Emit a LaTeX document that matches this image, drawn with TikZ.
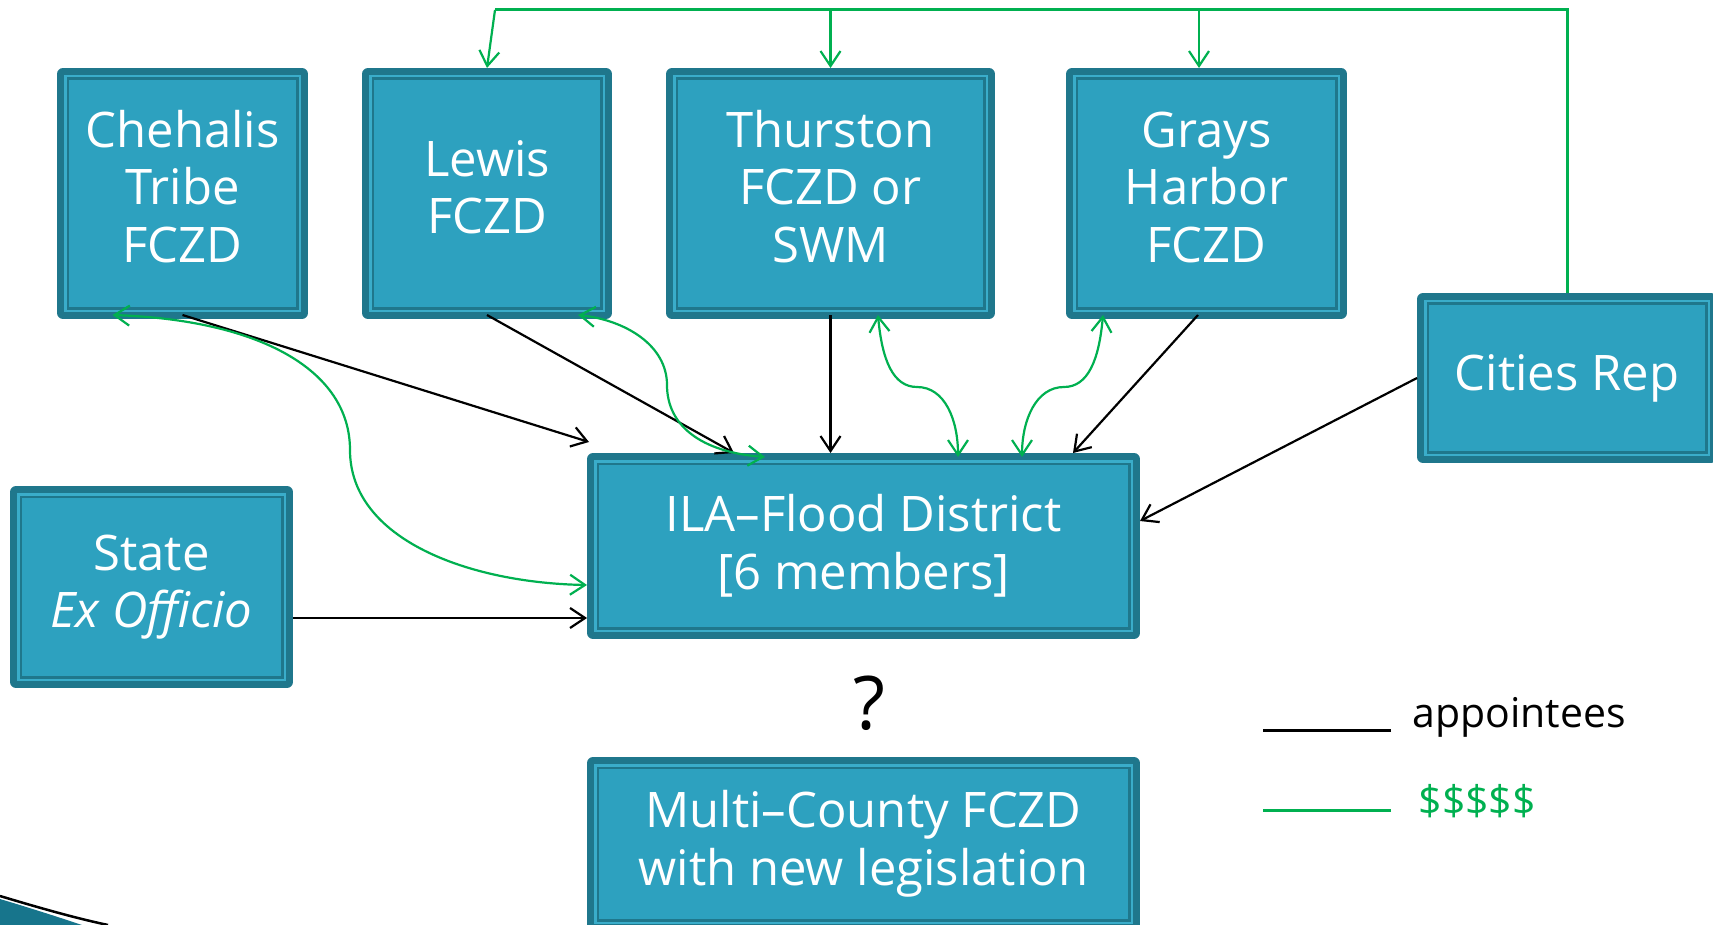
\documentclass[tikz,border=0pt]{standalone}
\usepackage{fontspec}
\setmainfont{Open Sans}
\usetikzlibrary{arrows.meta}
\definecolor{boxfill}{HTML}{2DA1BF}
\definecolor{boxdark}{HTML}{1F778C}
\definecolor{boxlight}{HTML}{3AADCA}
\definecolor{money}{HTML}{00B050}
\definecolor{swoosh}{HTML}{17758C}
% stacked lines, centred on their strut block
\newcommand{\boxrows}[1]{\raisebox{-2.5pt}{\begin{tabular}{@{}c@{}}#1\end{tabular}}}
\tikzset{
  vtip/.tip={Straight Barb[length=15pt,width=20pt]},
  box/.style={draw=boxdark, fill=boxfill, line width=12pt, line join=round,
    inner sep=0pt, outer sep=6pt, text=white, align=center,
    font=\fontsize{49pt}{57.5pt}\selectfont},
  innerline/.style={draw=boxlight, line width=2.5pt},
  appt/.style={draw=black, line width=2.2pt, -vtip},
  pay/.style={draw=money, line width=2.2pt},
  legendtext/.style={anchor=base west, font=\fontsize{41pt}{49pt}\selectfont},
}
\begin{document}
\begin{tikzpicture}[x=1pt,y=-1pt]
\fill[white] (0,0) rectangle (1713,925);
\useasboundingbox (0,0) rectangle (1713,925);

% corner swoosh
\fill[swoosh] (0,899) .. controls (30,908) and (55,916) .. (82,925) -- (0,925) -- cycle;
\draw[black, line width=2.5pt] (0,896) .. controls (40,908) and (75,918) .. (108,925);

% boxes
\node[box, minimum width=239pt, minimum height=239pt] (chehalis) at (182.5,193.5) {\boxrows{Chehalis\\Tribe\\FCZD}};
\node[box, minimum width=238pt, minimum height=239pt] (lewis) at (487,193.5) {\boxrows{Lewis\\FCZD}};
\node[box, minimum width=317pt, minimum height=239pt] (thurston) at (830.5,193.5) {\boxrows{Thurston\\FCZD or\\SWM}};
\node[box, minimum width=269pt, minimum height=239pt] (grays) at (1206.5,193.5) {\boxrows{Grays\\Harbor\\FCZD}};
\node[box, minimum width=288pt, minimum height=158pt] (cities) at (1567,378) {Cities Rep};
\node[box, minimum width=541pt, minimum height=174pt] (ila) at (863.5,546) {ILA--Flood District\\{[}6 members{]}};
\node[box, minimum width=271pt, minimum height=190pt] (state) at (151.5,587) {State\\\textit{Ex Officio}};
\node[box, minimum width=541pt, minimum height=162pt] (multi) at (863.5,844) {Multi--County FCZD\\with new legislation};

\foreach \n in {chehalis,lewis,thurston,grays,cities,ila,state,multi}
  \draw[innerline] ([xshift=8.25pt,yshift=-8.25pt]\n.north west) rectangle ([xshift=-8.25pt,yshift=8.25pt]\n.south east);

\node[font=\fontsize{74pt}{80pt}\selectfont] (q) at (869,703) {?};

% appointees
\draw[appt] ([yshift=4pt]chehalis.south) -- ([xshift=2pt,yshift=11pt]ila.north west);
\draw[appt] ([yshift=4pt]lewis.south) -- ([xshift=-129.5pt]ila.north);
\draw[appt] ([yshift=4pt]thurston.south) -- (thurston.south |- ila.north);
\draw[appt] ([xshift=-8.5pt,yshift=4pt]grays.south) -- ([xshift=209.5pt]ila.north);
\draw[appt] (cities.west) -- ([yshift=25pt]ila.east);
\draw[appt] ([yshift=-31pt]state.east) -- ([yshift=-72pt]ila.west);

% funding: shared line from the cities down to the counties
\coordinate (busL) at (495,10);
\coordinate (gtop) at ([xshift=-7.5pt]grays.north);
\draw[pay, line width=3pt, line join=miter] (cities.north) |- (busL);
\draw[pay, -vtip] (busL) -- (lewis.north);
\draw[pay, -vtip] (thurston.north |- busL) -- (thurston.north);
\draw[pay, -vtip] (gtop |- busL) -- (gtop);

% funding exchanges with the ILA
\draw[pay, vtip-vtip] ([xshift=-70pt,yshift=4pt]chehalis.south)
  .. controls (260,320) and (350,370) .. (350,450)
  .. controls (350,540) and (470,583) .. ([yshift=-39pt]ila.west);
\draw[pay, vtip-vtip] ([xshift=91pt,yshift=4pt]lewis.south)
  .. controls (625,320) and (667,345) .. (667,385)
  .. controls (667,425) and (700,452) .. ([xshift=-98.5pt,yshift=-4pt]ila.north);
\draw[pay, vtip-vtip] ([xshift=47.5pt,yshift=4pt]thurston.south)
  .. controls (882,360) and (893,387) .. (917,387)
  .. controls (945,387) and (958,420) .. ([xshift=94.5pt,yshift=-4pt]ila.north);
\draw[pay, vtip-vtip] ([xshift=-103.5pt,yshift=4pt]grays.south)
  .. controls (1099,360) and (1088,387) .. (1064,387)
  .. controls (1036,387) and (1022,420) .. ([xshift=158.5pt,yshift=-4pt]ila.north);

% legend
\node[legendtext] (apptlabel) at (1409,727) {appointees};
\node[legendtext, text=money] (paylabel) at (1415,815) {\$\$\$\$\$};
\draw[black, line width=3pt] ([xshift=-18pt,yshift=-3pt]apptlabel.base west) -- ++(-128,0);
\draw[money, line width=3pt] ([xshift=-24pt,yshift=5pt]paylabel.base west) -- ++(-128,0);
\end{tikzpicture}
\end{document}
